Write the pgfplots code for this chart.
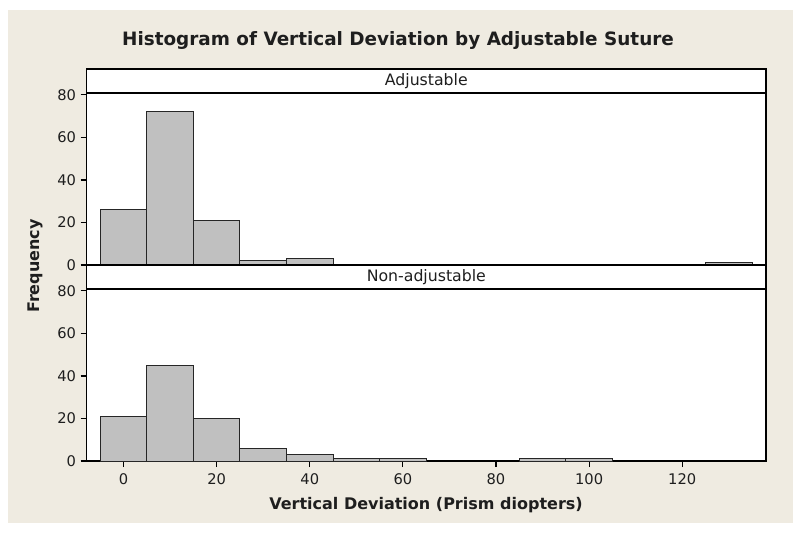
\documentclass[border=0pt]{standalone}
\usepackage{fontspec}
\setmainfont{DejaVu Sans}
\usepackage{pgfplots}
\pgfplotsset{compat=1.18}

\definecolor{bgbeige}{RGB}{239,235,225}
\definecolor{bargray}{RGB}{192,192,192}
\definecolor{ink}{RGB}{30,30,30}

% one panel of the Minitab-style paneled histogram (1px = 0.75pt)
\pgfplotsset{panel/.style={
  scale only axis, width=509.5pt, height=147pt,
  xmin=-7.93, xmax=138, ymin=0, ymax=92.2,
  axis background/.style={fill=white},
  axis line style={black, line width=0.8pt},
  ytick={0,20,40,60,80}, ytick pos=left,
  tick align=outside, major tick length=4.5pt,
  tick style={black, line width=0.8pt},
  tick label style={font=\fontsize{11}{13}\selectfont, text=ink},
  xticklabel style={yshift=-1.5pt},
  /pgf/number format/assume math mode=true,
  ybar, bar width=10, bar shift=0pt,
}}
\tikzset{bars/.style={fill=bargray, draw=black!85, line width=0.75pt}}

\begin{document}
\begin{tikzpicture}
\fill[white] (0,0) rectangle (600pt,-399.75pt);
\fill[bgbeige] (6pt,-7.5pt) rectangle (594.75pt,-392.25pt);
\useasboundingbox (0,0) rectangle (600pt,-399.75pt);

% Adjustable
\begin{axis}[panel, at={(65pt,-198.75pt)}, anchor=south west, xtick=\empty]
\addplot[bars] coordinates {(0,26)(10,72)(20,21)(30,2)(40,3)(130,1)};
\draw[line width=0.8pt] (rel axis cs:0,0.8776) -- (rel axis cs:1,0.8776);
\node[text=ink, font=\fontsize{11.8}{14}\selectfont] at (rel axis cs:0.5,0.939) {Adjustable};
\end{axis}

% Non-adjustable
\begin{axis}[panel, at={(65pt,-345.75pt)}, anchor=south west,
  xtick={0,20,40,60,80,100,120}, xtick pos=bottom]
\addplot[bars] coordinates {(0,21)(10,45)(20,20)(30,6)(40,3)(50,1)(60,1)(90,1)(100,1)};
\draw[line width=0.8pt] (rel axis cs:0,0.8776) -- (rel axis cs:1,0.8776);
\node[text=ink, font=\fontsize{11.8}{14}\selectfont] at (rel axis cs:0.5,0.939) {Non-adjustable};
\end{axis}

\node[text=ink, font=\bfseries\fontsize{13.8}{16}\selectfont] at (298.5pt,-30pt)
  {Histogram of Vertical Deviation by Adjustable Suture};
\node[text=ink, font=\bfseries\fontsize{12}{14}\selectfont] at (319.5pt,-378.75pt)
  {Vertical Deviation (Prism diopters)};
\node[text=ink, font=\bfseries\fontsize{12}{14}\selectfont, rotate=90] at (26.25pt,-199.5pt)
  {Frequency};
\end{tikzpicture}
\end{document}
